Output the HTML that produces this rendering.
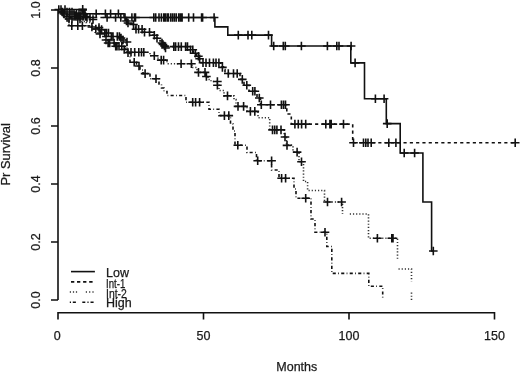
<!DOCTYPE html>
<html><head><meta charset="utf-8"><style>
html,body{margin:0;padding:0;background:#fff;width:520px;height:372px;overflow:hidden}
svg{display:block;will-change:transform}
</style></head><body>
<svg width="520" height="372" viewBox="0 0 520 372"><rect width="520" height="372" fill="#fff"/><g fill="none" stroke="#111" stroke-width="1.6" stroke-linecap="butt"><path d="M58,10 V300 M51,10 H58 M51,68 H58 M51,126 H58 M51,184 H58 M51,242 H58 M51,300 H58"/><path d="M58,319.5 V312.7 H494.5 V319.5 M203.5,312.7 V319.5 M349,312.7 V319.5"/><path d="M58,9.5 H85 V13.7 H124 V17.5 H214.9 V26.9 H227.8 V35.1 H271.6 V46 H350.8 V62.9 H364.5 V98.7 H386.3 V123.6 H400.2 V153 H422.9 V202 H431.6 V251 H433.3"/><path d="M58,9.5 H62 V13.7 H67 V17.5 H126.5 V23.5 H133 V24.5 H135.5 V29.3 H143 V32.2 H153 V35.2 H156 V38.2 H160 V41 H162 V44 H165 V46.6 H188.5 V49.8 H193.5 V53.2 H196.5 V56.2 H199 V58.8 H201 V62.8 H220.8 V66.8 H223.5 V69.5 H225 V73.5 H240 V79.4 H244 V85.3 H249 V91.2 H257 V98 H260.5 V104.8 H286.8 V114 H291.3 V124.1 H352.7 V142.8 H515.2" stroke-dasharray="3.15 3.15"/><path d="M58,9.5 H60 V12 H63 V15 H66 V18 H72 V20 H80 V21.5 H86 V22.5 H92 V26 H100 V29.6 H104 V33 H112 V36.5 H124 V40 H126 V44 H127 V52.2 H150 V55.8 H158 V60.1 H167 V63.7 H192 V67.5 H197 V72.4 H206 V76.5 H208 V79.5 H211 V81.5 H217.4 V85.2 H219 V90.5 H224 V95.9 H234 V99.5 H236 V106.4 H247 V111.4 H258 V117.7 H269.7 V129.9 H284.2 V137.3 H286.5 V145.1 H293 V152.1 H299 V161.7 H303.5 V181.5 H307.6 V190.5 H324.5 V202 H342.5 V214 M349.8,214 H368.5 V238.3 H397.5 V259 M398.5,269 H411.5 V281.5 M411.5,292.5 V300.5" stroke-dasharray="1.2 1.95" stroke="#333"/><path d="M58,9.5 H59 V12 H61 V15 H64 V17 H66 V19 H67 V21 H69 V25.8 H91.4 V29 H95 V33 H100 V36.5 H105 V40 H112 V43 H118 V46.2 H125 V49.5 H128 V52.6 H130 V62.3 H136.5 V66 H140 V70 H143 V73.6 H150 V78.7 H159 V84 H161.5 V88 H164 V91.5 H167 V95.5 H186 V102.3 H209 V109.2 H219 V115.6 H230.5 V124 H233 V131 H235 V145.3 H247 V152.5 H256.5 V160.7 H271.6 V170 H279 V178.2 H294 V189 H296 V198.2 H311 V219 H315 V232.3 H326.8 V246.5 H331.8 V273.4 H368.8 V286.3 H382.7 V300" stroke-dasharray="0.8 2.3 3.1 2.3"/><path d="M78.4,10.0h8.6M82.7,5.7v8.6M91.9,13.7h8.6M96.2,9.4v8.6M101.1,13.7h8.6M105.4,9.4v8.6M106.3,13.7h8.6M110.6,9.4v8.6M114.1,13.7h8.6M118.4,9.4v8.6M102.8,17.5h8.6M107.1,13.2v8.6M111.3,17.5h8.6M115.6,13.2v8.6M116.5,17.5h8.6M120.8,13.2v8.6M120.7,17.5h8.6M125.0,13.2v8.6M127.6,17.5h8.6M131.9,13.2v8.6M130.2,17.5h8.6M134.5,13.2v8.6M131.2,17.5h8.6M135.5,13.2v8.6M149.4,17.5h8.6M153.8,13.2v8.6M151.4,17.5h8.6M155.7,13.2v8.6M154.7,17.5h8.6M159.0,13.2v8.6M157.1,17.5h8.6M161.4,13.2v8.6M159.5,17.5h8.6M163.8,13.2v8.6M161.0,17.5h8.6M165.3,13.2v8.6M162.9,17.5h8.6M167.2,13.2v8.6M163.9,17.5h8.6M168.2,13.2v8.6M166.3,17.5h8.6M170.6,13.2v8.6M168.2,17.5h8.6M172.5,13.2v8.6M170.1,17.5h8.6M174.4,13.2v8.6M172.0,17.5h8.6M176.3,13.2v8.6M174.4,17.5h8.6M178.8,13.2v8.6M176.2,17.5h8.6M180.5,13.2v8.6M177.8,17.5h8.6M182.1,13.2v8.6M184.4,17.5h8.6M188.7,13.2v8.6M189.2,17.5h8.6M193.5,13.2v8.6M197.3,17.5h8.6M201.6,13.2v8.6M198.3,17.5h8.6M202.6,13.2v8.6M209.8,17.5h8.6M214.1,13.2v8.6M234.0,35.1h8.6M238.3,30.8v8.6M243.7,35.1h8.6M248.0,30.8v8.6M247.5,35.1h8.6M251.8,30.8v8.6M264.2,35.1h8.6M268.5,30.8v8.6M269.4,46.0h8.6M273.7,41.7v8.6M279.0,46.0h8.6M283.3,41.7v8.6M281.0,46.0h8.6M285.3,41.7v8.6M297.1,46.0h8.6M301.4,41.7v8.6M323.1,46.0h8.6M327.4,41.7v8.6M332.5,46.0h8.6M336.8,41.7v8.6M334.7,46.0h8.6M339.0,41.7v8.6M346.8,46.0h8.6M351.1,41.7v8.6M350.8,62.9h8.6M355.1,58.6v8.6M371.1,98.7h8.6M375.4,94.4v8.6M379.8,98.7h8.6M384.1,94.4v8.6M382.9,123.6h8.6M387.2,119.3v8.6M399.9,153.0h8.6M404.2,148.7v8.6M410.3,153.0h8.6M414.6,148.7v8.6M429.0,251.0h8.6M433.3,246.7v8.6M129.2,24.5h8.6M133.5,20.2v8.6M131.7,29.3h8.6M136.0,25.0v8.6M134.3,29.3h8.6M138.6,25.0v8.6M137.8,29.3h8.6M142.1,25.0v8.6M140.2,32.2h8.6M144.5,27.9v8.6M145.2,32.2h8.6M149.5,27.9v8.6M150.0,35.2h8.6M154.3,30.9v8.6M152.7,38.2h8.6M157.0,33.9v8.6M157.7,43.0h8.6M162.0,38.7v8.6M158.7,44.5h8.6M163.0,40.2v8.6M160.2,46.0h8.6M164.5,41.7v8.6M161.2,48.0h8.6M165.5,43.7v8.6M169.5,46.6h8.6M173.8,42.3v8.6M171.3,46.6h8.6M175.6,42.3v8.6M174.2,46.6h8.6M178.5,42.3v8.6M177.0,46.6h8.6M181.3,42.3v8.6M181.3,46.6h8.6M185.6,42.3v8.6M183.2,46.6h8.6M187.5,42.3v8.6M186.2,49.8h8.6M190.5,45.5v8.6M188.5,49.8h8.6M192.8,45.5v8.6M191.1,53.2h8.6M195.4,48.9v8.6M194.1,56.2h8.6M198.4,51.9v8.6M195.3,58.8h8.6M199.6,54.5v8.6M218.1,67.4h8.6M222.4,63.1v8.6M198.7,62.8h8.6M203.0,58.5v8.6M201.7,62.8h8.6M206.0,58.5v8.6M205.2,62.8h8.6M209.5,58.5v8.6M209.1,62.8h8.6M213.4,58.5v8.6M211.7,62.8h8.6M216.0,58.5v8.6M214.6,62.8h8.6M218.9,58.5v8.6M224.0,73.5h8.6M228.3,69.2v8.6M229.2,73.5h8.6M233.5,69.2v8.6M232.9,73.5h8.6M237.2,69.2v8.6M238.0,79.4h8.6M242.3,75.1v8.6M242.5,85.3h8.6M246.8,81.0v8.6M248.4,91.2h8.6M252.7,86.9v8.6M250.6,91.2h8.6M254.9,86.9v8.6M255.0,98.0h8.6M259.3,93.7v8.6M257.0,104.8h8.6M261.3,100.5v8.6M266.2,104.8h8.6M270.5,100.5v8.6M277.1,104.8h8.6M281.4,100.5v8.6M279.2,104.8h8.6M283.5,100.5v8.6M281.2,104.8h8.6M285.5,100.5v8.6M290.6,124.1h8.6M294.9,119.8v8.6M294.0,124.1h8.6M298.3,119.8v8.6M297.3,124.1h8.6M301.6,119.8v8.6M301.4,124.1h8.6M305.7,119.8v8.6M321.5,124.1h8.6M325.8,119.8v8.6M325.6,124.1h8.6M329.9,119.8v8.6M326.9,124.1h8.6M331.2,119.8v8.6M339.2,124.1h8.6M343.5,119.8v8.6M349.2,142.8h8.6M353.5,138.5v8.6M359.2,142.8h8.6M363.5,138.5v8.6M361.5,142.8h8.6M365.8,138.5v8.6M363.7,142.8h8.6M368.0,138.5v8.6M366.9,142.8h8.6M371.2,138.5v8.6M384.5,142.8h8.6M388.8,138.5v8.6M391.6,142.8h8.6M395.9,138.5v8.6M510.9,142.8h8.6M515.2,138.5v8.6M126.7,52.2h8.6M131.0,47.9v8.6M130.4,52.2h8.6M134.7,47.9v8.6M134.5,52.2h8.6M138.8,47.9v8.6M137.2,52.2h8.6M141.5,47.9v8.6M139.5,52.2h8.6M143.8,47.9v8.6M150.0,55.8h8.6M154.3,51.5v8.6M156.9,60.1h8.6M161.2,55.8v8.6M159.3,60.1h8.6M163.6,55.8v8.6M176.8,63.7h8.6M181.1,59.4v8.6M187.1,63.7h8.6M191.4,59.4v8.6M194.2,72.4h8.6M198.5,68.1v8.6M200.7,72.4h8.6M205.0,68.1v8.6M202.1,76.5h8.6M206.4,72.2v8.6M213.1,81.5h8.6M217.4,77.2v8.6M213.1,85.2h8.6M217.4,80.9v8.6M223.2,95.9h8.6M227.5,91.6v8.6M233.7,106.4h8.6M238.0,102.1v8.6M239.3,106.4h8.6M243.6,102.1v8.6M246.1,111.4h8.6M250.4,107.1v8.6M250.5,111.4h8.6M254.8,107.1v8.6M268.2,129.9h8.6M272.5,125.6v8.6M270.4,129.9h8.6M274.7,125.6v8.6M272.6,129.9h8.6M276.9,125.6v8.6M276.7,129.9h8.6M281.0,125.6v8.6M280.7,137.0h8.6M285.0,132.7v8.6M282.7,145.4h8.6M287.0,141.1v8.6M292.8,152.1h8.6M297.1,147.8v8.6M297.2,161.7h8.6M301.5,157.4v8.6M323.2,202.0h8.6M327.5,197.7v8.6M337.3,202.0h8.6M341.6,197.7v8.6M373.1,238.3h8.6M377.4,234.0v8.6M387.5,238.3h8.6M391.8,234.0v8.6M388.7,238.3h8.6M393.0,234.0v8.6M67.5,25.8h8.6M71.8,21.5v8.6M73.5,25.8h8.6M77.8,21.5v8.6M78.1,25.8h8.6M82.4,21.5v8.6M129.9,62.3h8.6M134.2,58.0v8.6M134.7,66.0h8.6M139.0,61.7v8.6M140.8,73.6h8.6M145.1,69.3v8.6M151.7,78.7h8.6M156.0,74.4v8.6M188.4,102.3h8.6M192.7,98.0v8.6M191.3,102.3h8.6M195.6,98.0v8.6M195.3,102.3h8.6M199.6,98.0v8.6M220.1,115.6h8.6M224.4,111.3v8.6M224.5,115.6h8.6M228.8,111.3v8.6M233.5,145.3h8.6M237.8,141.0v8.6M253.4,160.7h8.6M257.7,156.4v8.6M267.3,160.7h8.6M271.6,156.4v8.6M277.3,178.2h8.6M281.6,173.9v8.6M281.3,178.2h8.6M285.6,173.9v8.6M301.4,198.2h8.6M305.7,193.9v8.6M320.7,232.3h8.6M325.0,228.0v8.6M78.4,9.4h8.6M82.7,5.1v8.6M87.6,27.0h8.6M91.9,22.7v8.6M91.5,29.0h8.6M95.8,24.7v8.6M97.3,29.6h8.6M101.6,25.3v8.6M100.5,33.0h8.6M104.8,28.7v8.6M102.2,33.0h8.6M106.5,28.7v8.6M104.2,33.0h8.6M108.5,28.7v8.6M107.0,36.5h8.6M111.3,32.2v8.6M113.0,36.5h8.6M117.3,32.2v8.6M115.1,36.5h8.6M119.4,32.2v8.6M118.7,40.0h8.6M123.0,35.7v8.6M103.8,43.0h8.6M108.1,38.7v8.6M105.4,43.0h8.6M109.7,38.7v8.6M109.8,43.0h8.6M114.1,38.7v8.6M111.4,46.2h8.6M115.7,41.9v8.6M114.7,46.2h8.6M119.0,41.9v8.6M117.5,46.2h8.6M121.8,41.9v8.6M119.9,49.5h8.6M124.2,45.2v8.6M94.7,27.5h8.6M99.0,23.2v8.6M108.7,36.5h8.6M113.0,32.2v8.6M116.7,38.0h8.6M121.0,33.7v8.6M122.7,42.0h8.6M127.0,37.7v8.6M95.7,34.0h8.6M100.0,29.7v8.6M101.7,40.0h8.6M106.0,35.7v8.6M112.7,46.2h8.6M117.0,41.9v8.6M123.7,52.6h8.6M128.0,48.3v8.6M82.7,17.5h8.6M87.0,13.2v8.6M85.7,17.5h8.6M90.0,13.2v8.6M88.7,19.5h8.6M93.0,15.2v8.6M122.2,21.0h8.6M126.5,16.7v8.6M123.7,23.0h8.6M128.0,18.7v8.6M54.5,9.5h8.6M58.8,5.2v8.6M56.7,9.5h8.6M61.0,5.2v8.6M60.7,9.5h8.6M65.0,5.2v8.6M58.2,12.0h8.6M62.5,7.7v8.6M62.7,12.0h8.6M67.0,7.7v8.6M65.2,12.0h8.6M69.5,7.7v8.6M67.7,12.0h8.6M72.0,7.7v8.6M59.7,14.0h8.6M64.0,9.7v8.6M65.7,14.0h8.6M70.0,9.7v8.6M69.7,14.0h8.6M74.0,9.7v8.6M72.2,14.0h8.6M76.5,9.7v8.6M74.7,14.0h8.6M79.0,9.7v8.6M76.7,14.0h8.6M81.0,9.7v8.6M79.7,14.0h8.6M84.0,9.7v8.6M62.7,16.5h8.6M67.0,12.2v8.6M70.7,16.5h8.6M75.0,12.2v8.6M73.7,16.5h8.6M78.0,12.2v8.6M76.2,16.5h8.6M80.5,12.2v8.6M78.7,16.5h8.6M83.0,12.2v8.6M81.2,16.5h8.6M85.5,12.2v8.6M64.7,19.0h8.6M69.0,14.7v8.6M67.7,19.0h8.6M72.0,14.7v8.6M73.5,19.0h8.6M77.8,14.7v8.6M75.7,19.0h8.6M80.0,14.7v8.6"/><path d="M71,271.6 H94.9"/><path d="M71,281.9 h3.3 M77,281.9 h3.3 M83.1,281.9 h3.3 M89.2,281.9 h3.4"/><path stroke="#333" d="M69.8,292 h1.2M72.9,292 h1.2M75.9,292 h1.2M85.8,292 h1.2M89.1,292 h1.2M92.4,292 h1.2"/><path d="M69.8,302.3 h1.2 M72.8,302.3 h3.1 M82.3,302.3 h3 M87.4,302.3 h1.2 M90.5,302.3 h3.1"/></g><g font-family='"Liberation Sans", sans-serif' font-size="12.5" fill="#1a1a1a" stroke="#1a1a1a" stroke-width="0.25"><text transform="translate(40,300) rotate(-90)" text-anchor="middle">0.0</text><text transform="translate(40,242) rotate(-90)" text-anchor="middle">0.2</text><text transform="translate(40,184) rotate(-90)" text-anchor="middle">0.4</text><text transform="translate(40,126) rotate(-90)" text-anchor="middle">0.6</text><text transform="translate(40,68) rotate(-90)" text-anchor="middle">0.8</text><text transform="translate(40,10) rotate(-90)" text-anchor="middle">1.0</text><text x="57.3" y="339.8" text-anchor="middle">0</text><text x="203.5" y="339.8" text-anchor="middle">50</text><text x="349" y="339.8" text-anchor="middle">100</text><text x="494.5" y="339.8" text-anchor="middle">150</text><text x="296.8" y="370.7" text-anchor="middle">Months</text><text transform="translate(10.3,154.3) rotate(-90)" text-anchor="middle" textLength="62.4" lengthAdjust="spacingAndGlyphs">Pr Survival</text><text x="106" y="277" text-anchor="start">Low</text><text x="106" y="287.6" text-anchor="start" textLength="19.3" lengthAdjust="spacingAndGlyphs">Int-1</text><text x="106" y="297.9" text-anchor="start" textLength="20.8" lengthAdjust="spacingAndGlyphs">Int-2</text><text x="106" y="306.5" text-anchor="start">High</text></g></svg>
</body></html>
